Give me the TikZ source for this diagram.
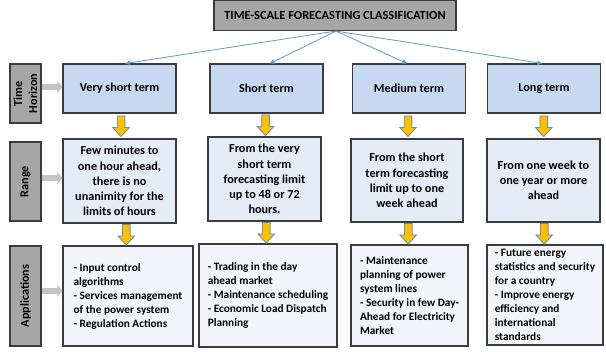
\documentclass[tikz,border=0pt]{standalone}
\usepackage{fontspec}
\setmainfont{Carlito}
\usetikzlibrary{arrows.meta,calc}
\definecolor{bordc}{HTML}{3C3C3C}
\definecolor{grayf}{HTML}{A6A6A6}
\definecolor{rowone}{HTML}{C6D9F1}
\definecolor{rowtwo}{HTML}{E4ECF7}
\definecolor{rowthree}{HTML}{F2F6FB}
\definecolor{yfill}{HTML}{FFC000}
\definecolor{yline}{HTML}{6F8FB0}
\definecolor{conn}{HTML}{5B9BD5}
\definecolor{sidearr}{HTML}{C4C4C4}
\tikzset{
  basebox/.style={draw=bordc, line width=1.1pt, inner sep=0pt, font=\bfseries},
  titlebox/.style={basebox, fill=grayf, minimum width=242pt, minimum height=30pt, font=\bfseries\fontsize{12.4}{14}\selectfont},
  sidebox/.style={basebox, fill=grayf, rotate=90, align=center, font=\bfseries\fontsize{12.2}{15}\selectfont},
  thbox/.style={basebox, fill=rowone, minimum width=113pt, minimum height=49pt, font=\bfseries\fontsize{12.2}{14}\selectfont},
  rgbox/.style={basebox, fill=rowtwo, align=center, font=\bfseries\fontsize{12.2}{15.2}\selectfont},
  apbox/.style={basebox, fill=rowthree, align=left, font=\bfseries\fontsize{11.3}{14}\selectfont},
  conline/.style={draw=conn, line width=0.8pt, -{Triangle[length=4.5pt,width=4.5pt]}},
  sidearrow/.style={draw=sidearr, line width=6pt, -{Triangle[length=5pt,width=12pt]}},
  yarrow/.pic={\draw[fill=yfill, draw=yline, line width=0.9pt, line join=miter]
     (-3.8,-10) -- (-3.8,1.5) -- (-8.3,1.5) -- (0,10.5) -- (8.3,1.5) -- (3.8,1.5) -- (3.8,-10) -- cycle;}
}
\begin{document}
\begin{tikzpicture}[x=1pt,y=-1pt]
\useasboundingbox[fill=white] (0,0) rectangle (606,352);
% title
\node[titlebox] (title) at (335,15.5) {TIME-SCALE FORECASTING CLASSIFICATION};
% side labels
\node[sidebox, minimum width=59pt, minimum height=31pt] (th) at (25.5,93.5) {Time\\Horizon};
\node[sidebox, minimum width=79pt, minimum height=31pt] (rg) at (25.5,181.5) {Range};
\node[sidebox, minimum width=100pt, minimum height=31pt] (ap) at (25.5,296) {Applications};
% row 1
\node[thbox] (a1) at (119.5,88.5) {Very short term};
\node[thbox] (a2) at (266.5,88.5) {Short term};
\node[thbox] (a3) at (409,88.5) {Medium term};
\node[thbox] (a4) at (544,88.5) {Long term};
% row 2
\node[rgbox, minimum width=113pt, minimum height=84pt] (b1) at (119.5,181) {Few minutes to\\one hour ahead,\\there is no\\unanimity for the\\limits of hours};
\node[rgbox, minimum width=113pt, minimum height=84pt] (b2) at (264.5,179) {From the very\\short term\\forecasting limit\\up to 48 or 72\\hours.};
\node[rgbox, minimum width=112pt, minimum height=83pt] (b3) at (407,180.5) {From the short\\term forecasting\\limit up to one\\week ahead};
\node[rgbox, minimum width=113pt, minimum height=83pt] (b4) at (543.5,180.5) {From one week to\\one year or more\\ahead};
% row 3
\node[apbox, minimum width=130pt, minimum height=100pt] (c1) at (128,296) {- Input control\\algorithms\\- Services management\\of the power system\\- Regulation Actions};
\node[apbox, minimum width=138pt, minimum height=103pt] (c2) at (268,295.5) {- Trading in the day\\ahead market\\- Maintenance scheduling\\- Economic Load Dispatch\\Planning};
\node[apbox, minimum width=117pt, minimum height=101pt] (c3) at (409.5,295.5) {- Maintenance\\planning of power\\system lines\\- Security in few Day-\\Ahead for Electricity\\Market};
\node[apbox, minimum width=116pt, minimum height=100pt] (c4) at (545,295) {- Future energy\\statistics and security\\for a country\\- Improve energy\\efficiency and\\international\\standards};
% blue connectors
\draw[conline] ([xshift=1pt]title.south) -- ([xshift=6pt]a1.north);
\draw[conline] ([xshift=1pt]title.south) -- ([xshift=3.5pt]a2.north);
\draw[conline] ([xshift=1pt]title.south) -- ([xshift=-2pt]a3.north);
\draw[conline] ([xshift=1pt]title.south) -- ([xshift=-2pt]a4.north);
% side arrows
\draw[sidearrow] ([yshift=1.5pt]th.south |- a1.west) -- ([yshift=1.5pt]a1.west);
\draw[sidearrow] ([yshift=3pt]rg.south |- b1.west) -- ([yshift=3pt]b1.west);
\draw[sidearrow] ([yshift=5pt]ap.south |- c1.west) -- ([yshift=5pt]c1.west);
% yellow block arrows
\pic at ($(a1.south)!0.5!(b1.north)+(1.5,0)$) {yarrow};
\pic at ($(a2.south)!0.5!(b2.north)$) {yarrow};
\pic at ($(a3.south)!0.5!(b3.north)$) {yarrow};
\pic at ($(a4.south)!0.5!(b4.north)$) {yarrow};
\pic at ($(b1.south)!0.5!(c1.north)+(2.5,0)$) {yarrow};
\pic at ($(b2.south)!0.5!(c2.north)$) {yarrow};
\pic at ($(b3.south)!0.5!(c3.north)$) {yarrow};
\pic at ($(b4.south)!0.5!(c4.north)$) {yarrow};
\end{tikzpicture}
\end{document}
